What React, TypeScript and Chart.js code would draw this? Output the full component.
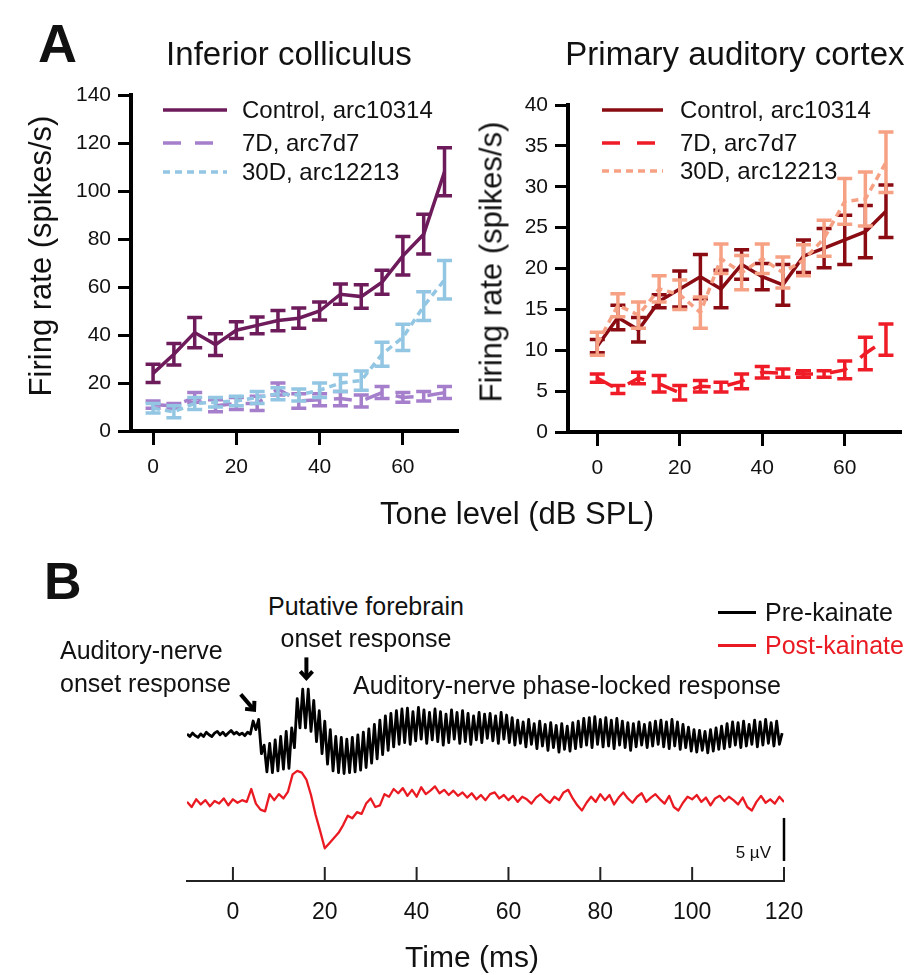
import React, { useEffect, useRef } from "react";
import { Chart, registerables } from "chart.js";

Chart.register(...registerables);

const FONT = "Arial, 'Liberation Sans', Helvetica, sans-serif";
const INK = "#111111";
const RED = "#ea1a22";
Chart.defaults.font.family = FONT;
Chart.defaults.color = INK;

// ---------------- Panel A data ----------------
const toneLevels = [0, 5, 10, 15, 20, 25, 30, 35, 40, 45, 50, 55, 60, 65, 70];
const toneTicks = [0, 20, 40, 60];
const seriesLabels = ["Control, arc10314", "7D, arc7d7", "30D, arc12213"];

// Inferior colliculus
const icTicks = [0, 20, 40, 60, 80, 100, 120, 140];
const icControl = [24, 32, 41, 36, 42, 44, 46, 47, 50, 57, 56, 62, 73, 82, 108];
const icControlErr = [3.8, 4.5, 6.3, 4.5, 3.5, 3.5, 4.2, 4.2, 3.8, 4.2, 4.9, 5, 8, 8.3, 10];
const ic7D = [11, 10.5, 14, 10.5, 11.5, 11.5, 17.5, 12.5, 13, 13.5, 12.5, 16, 14, 14.5, 16];
const ic7DErr = [1.5, 1, 2, 2.5, 2.5, 3, 2.5, 3, 2.5, 3, 2.5, 2.5, 2, 2, 2.5];
const ic30D = [9.5, 8, 11.5, 12, 12.5, 14, 15.5, 15, 17, 20, 21, 32, 39, 52, 63];
const ic30DErr = [2, 2.5, 2.5, 2, 2, 2.5, 2.5, 2.5, 3, 3.5, 4, 5, 5.5, 6, 8];

// Primary auditory cortex
const a1Ticks = [0, 5, 10, 15, 20, 25, 30, 35, 40];
const a1Control = [10.5, 14, 12.5, 16, 17.5, 19, 17.5, 20.5, 19, 18, 21.5, 22.5, 23.5, 24.5, 27];
const a1ControlErr = [0.8, 1.5, 1.5, 0.8, 2.2, 2.7, 2.3, 1.8, 1.6, 2.5, 2, 2.4, 3, 3.2, 3.2];
const a17D = [6.6, 5.2, 6.6, 5.9, 4.8, 5.6, 5.5, 6.2, 7.3, 7.2, 7.1, 7.1, 7.6, 9.6, 11.3];
const a17DErr = [0.5, 0.5, 0.7, 1, 0.9, 0.7, 0.6, 0.9, 0.7, 0.5, 0.4, 0.4, 1.1, 2, 1.9];
const a130D = [10.8, 15.5, 14.3, 17.5, 16.8, 14.6, 21.2, 19.5, 21.2, 19.5, 21, 23.7, 28.2, 28.5, 33];
const a130DErr = [1.4, 1.4, 1.6, 1.6, 1.8, 1.9, 1.8, 2.1, 1.8, 1.9, 1.9, 2.2, 2.8, 3.3, 3.7];

// ---------------- Panel B data ----------------
const timeTicks = [0, 20, 40, 60, 80, 100, 120];
const traceStart = -10; // ms
const preStep = 0.6; // ms per sample
const postStep = 1.0; // ms per sample
// µV relative to pre-stimulus baseline
const preKainate = [
  0.1, -0.2, 0.2, -0.1, -0.3, 0.1, -0.2, 0.3, 0.0, -0.2,
  0.2, 0.4, 0.0, 0.3, -0.1, 0.2, 0.5, 0.1, 0.3, 0.0,
  0.2, -0.1, 0.3, 0.1, 1.6, 0.6, 1.8, -2.2, -1.2, -4.3,
  -1.0, -4.4, -0.6, -4.2, -0.2, -4.0, 0.4, -3.9, 0.8, -1.5,
  4.2, 0.8, 5.3, 0.8, 5.3, 0.4, 4.0, -0.8, 2.8, -2.2,
  1.6, -3.4, 0.6, -4.2, -0.2, -4.4, -0.3, -4.5, -0.5, -4.4,
  -0.3, -4.3, 0.0, -4.1, 0.3, -3.8, 0.7, -3.3, 1.2, -2.8,
  1.7, -2.3, 2.2, -1.8, 2.5, -1.4, 2.8, -1.1, 3.0, -0.9,
  3.1, -1.1, 2.7, -0.7, 3.2, -0.5, 2.9, -1.0, 2.6, -0.6,
  3.0, -0.8, 2.7, -1.2, 2.4, -0.9, 2.9, -0.5, 2.6, -1.0,
  2.8, -0.8, 2.5, -1.1, 2.2, -0.6, 2.6, -0.9, 2.4, -0.4,
  2.5, -0.7, 2.2, -1.0, 2.6, -0.5, 2.3, -0.9, 2.0, -1.2,
  1.7, -1.0, 1.5, -1.4, 1.8, -1.1, 1.3, -1.6, 1.6, -1.3,
  1.2, -1.8, 1.4, -1.5, 1.1, -2.0, 1.3, -1.7, 1.0, -1.9,
  1.4, -1.6, 1.6, -1.4, 1.9, -1.2, 2.0, -1.5, 2.1, -1.1,
  1.8, -1.4, 2.0, -1.3, 1.7, -1.6, 1.9, -1.2, 1.6, -1.5,
  1.4, -1.8, 1.3, -1.4, 1.5, -1.2, 1.2, -1.5, 1.4, -1.3,
  1.6, -1.1, 1.7, -1.4, 1.5, -1.6, 1.8, -1.3, 1.5, -1.7,
  1.2, -1.5, 0.9, -1.9, 0.6, -2.0, 0.5, -1.8, 0.4, -2.1,
  0.6, -1.9, 0.8, -1.7, 1.0, -1.6, 1.3, -1.4, 1.5, -1.2,
  1.4, -1.5, 1.6, -1.3, 1.2, -1.1, 1.7, -1.4, 1.5, -1.2,
  1.8, -1.0, 1.4, -1.3, 1.6, -1.1, 0.2,
];
const postKainate = [
  0.0, -0.6, 0.3, -0.3, 0.2, -0.5, 0.1, -0.2, 0.4, -0.4,
  0.3, -0.1, 0.2, 0.0, 1.5, -0.2, -0.9, -1.1, 0.9, 0.2,
  0.9, 0.4, 1.2, 3.2, 3.6, 3.4, 2.6, 0.8, -1.5, -3.4,
  -5.4, -4.8, -4.2, -3.6, -2.7, -1.6, -1.9, -1.2, -1.4, -0.2,
  0.4, -0.6, -0.4, 0.9, 0.6, 1.5, 1.0, 1.6, 0.7, 1.4,
  0.6, 1.7, 0.9, 1.3, 1.8, 1.0, 1.4, 0.8, 1.3, 0.7,
  1.1, 0.5, 1.0, 0.3, 0.8, 0.2, 0.9, 1.1, 0.4, 0.8,
  0.2, 0.7, 0.0, 0.6, 0.3, -0.2, 0.5, 0.9, 0.3, -0.1,
  0.6, 0.2, 1.1, 1.4, 0.4, -0.4, -1.0, -0.1, 0.6, 0.0,
  0.9, 0.2, 0.8, -0.3, 0.5, 1.1, 0.4, -0.1, 0.6, 1.0,
  0.0, 0.5, 0.9, 0.3, -0.2, 0.7, -0.6, -1.0, -0.1, 0.6,
  0.3, 0.8, 0.0, 0.5, -0.4, 0.4, 0.7, 0.1, 0.6, 0.2,
  -0.3, 0.5, -0.6, -1.0, 0.0, 0.7, -0.1, 0.3, -0.2, 0.6,
  0.0,
];
const preOffset = 17.0; // vertical placement of the traces (µV)
const postOffset = 9.2;
const scaleBarBase = 2.33;
const scaleBarUV = 5;

// ---------------- Plugins ----------------
const errorBarPlugin = {
  id: "errorBars",
  afterDatasetDraw(chart: any, args: any) {
    const ds = chart.data.datasets[args.index];
    if (!ds.errors) return;
    const ys = chart.scales.y;
    const ctx = chart.ctx;
    const cap = 7.5;
    ctx.save();
    ctx.strokeStyle = ds.borderColor;
    ctx.lineWidth = 3.5;
    ctx.setLineDash([]);
    ctx.lineCap = "butt";
    args.meta.data.forEach((el: any, i: number) => {
      const v = ds.data[i].y;
      const e = ds.errors[i];
      const x = el.x;
      const top = ys.getPixelForValue(v + e);
      const bot = ys.getPixelForValue(v - e);
      ctx.beginPath();
      ctx.moveTo(x, top);
      ctx.lineTo(x, bot);
      ctx.moveTo(x - cap, top);
      ctx.lineTo(x + cap, top);
      ctx.moveTo(x - cap, bot);
      ctx.lineTo(x + cap, bot);
      ctx.stroke();
    });
    ctx.restore();
  },
};

function insetLegend(x0: number, x1: number, textX: number, rows: number[]) {
  return {
    id: "insetLegend",
    afterDraw(chart: any) {
      const ctx = chart.ctx;
      ctx.save();
      chart.data.datasets.forEach((ds: any, i: number) => {
        const y = rows[i];
        ctx.strokeStyle = ds.borderColor;
        ctx.lineWidth = ds.borderWidth;
        ctx.lineCap = "butt";
        ctx.setLineDash(ds.borderDash || []);
        ctx.beginPath();
        ctx.moveTo(x0, y);
        ctx.lineTo(x1, y);
        ctx.stroke();
        ctx.setLineDash([]);
        ctx.fillStyle = INK;
        ctx.font = `24px ${FONT}`;
        ctx.textBaseline = "middle";
        ctx.textAlign = "left";
        ctx.fillText(ds.label, textX, y + 1);
      });
      ctx.restore();
    },
  };
}

const upTicksPlugin = {
  id: "upTicks",
  afterDraw(chart: any) {
    const xs = chart.scales.x;
    const ctx = chart.ctx;
    const base = chart.chartArea.bottom;
    ctx.save();
    ctx.strokeStyle = "#222";
    ctx.lineWidth = 2;
    xs.ticks.forEach((t: any) => {
      const px = xs.getPixelForValue(t.value);
      ctx.beginPath();
      ctx.moveTo(px, base);
      ctx.lineTo(px, base - 14);
      ctx.stroke();
    });
    ctx.restore();
  },
};

const arrowNotes = [
  { from: [1.7, 21.7], to: [4.6, 19.9] },
  { from: [16.0, 26.0], to: [16.0, 23.6] },
];

const arrowPlugin = {
  id: "arrows",
  afterDraw(chart: any) {
    const xs = chart.scales.x;
    const ys = chart.scales.y;
    const ctx = chart.ctx;
    ctx.save();
    ctx.strokeStyle = "#000";
    ctx.lineWidth = 4;
    ctx.lineJoin = "miter";
    ctx.lineCap = "butt";
    arrowNotes.forEach((a) => {
      const x0 = xs.getPixelForValue(a.from[0]);
      const y0 = ys.getPixelForValue(a.from[1]);
      const x1 = xs.getPixelForValue(a.to[0]);
      const y1 = ys.getPixelForValue(a.to[1]);
      const ang = Math.atan2(y1 - y0, x1 - x0);
      const h = 9;
      ctx.beginPath();
      ctx.moveTo(x0, y0);
      ctx.lineTo(x1 - Math.cos(ang) * 2, y1 - Math.sin(ang) * 2);
      ctx.stroke();
      ctx.beginPath();
      ctx.moveTo(x1 - h * Math.cos(ang - 0.75), y1 - h * Math.sin(ang - 0.75));
      ctx.lineTo(x1, y1);
      ctx.lineTo(x1 - h * Math.cos(ang + 0.75), y1 - h * Math.sin(ang + 0.75));
      ctx.stroke();
    });
    ctx.restore();
  },
};

// ---------------- Configs ----------------
type Series = { label: string; values: number[]; errors: number[]; color: string; dash: number[]; order: number };

function panelAConfig(
  series: Series[],
  yTicks: number[],
  xMin: number,
  xMax: number,
  padding: { left: number; right: number; top: number; bottom: number },
  legend: any
) {
  return {
    type: "line",
    data: {
      datasets: series.map((s) => ({
        label: s.label,
        data: toneLevels.map((x, i) => ({ x, y: s.values[i] })),
        errors: s.errors,
        borderColor: s.color,
        backgroundColor: s.color,
        borderWidth: 3.5,
        borderDash: s.dash,
        pointRadius: 0,
        tension: 0,
        fill: false,
        order: s.order,
      })),
    },
    options: {
      responsive: false,
      animation: false,
      devicePixelRatio: 1,
      layout: { padding },
      plugins: { legend: { display: false }, tooltip: { enabled: false } },
      scales: {
        x: {
          type: "linear",
          min: xMin,
          max: xMax,
          afterBuildTicks: (s: any) => {
            s.ticks = toneTicks.map((v) => ({ value: v }));
          },
          afterFit: (s: any) => {
            s.height = 60;
          },
          grid: {
            display: true,
            drawOnChartArea: false,
            drawTicks: true,
            tickLength: 14,
            tickWidth: 3,
            tickColor: "#000",
            lineWidth: 3,
            color: "#000",
          },
          border: { display: true, color: "#000", width: 4 },
          ticks: { font: { family: FONT, size: 21 }, color: INK, padding: 10, maxRotation: 0, autoSkip: false },
        },
        y: {
          type: "linear",
          min: yTicks[0],
          max: yTicks[yTicks.length - 1],
          afterBuildTicks: (s: any) => {
            s.ticks = yTicks.map((v) => ({ value: v }));
          },
          afterFit: (s: any) => {
            s.width = 60;
          },
          grid: {
            display: true,
            drawOnChartArea: false,
            drawTicks: true,
            tickLength: 13,
            tickWidth: 3,
            tickColor: "#000",
            lineWidth: 3,
            color: "#000",
          },
          border: { display: true, color: "#000", width: 4 },
          ticks: { font: { family: FONT, size: 21 }, color: INK, padding: 7, autoSkip: false },
        },
      },
    },
    plugins: [errorBarPlugin, legend],
  };
}

const makeIC = () =>
  panelAConfig(
    [
      { label: seriesLabels[0], values: icControl, errors: icControlErr, color: "#6d1b5b", dash: [], order: 0 },
      { label: seriesLabels[1], values: ic7D, errors: ic7DErr, color: "#a57fcb", dash: [18, 14], order: 2 },
      { label: seriesLabels[2], values: ic30D, errors: ic30DErr, color: "#93c6e3", dash: [7, 5], order: 1 },
    ],
    icTicks,
    -5.3,
    73,
    { left: 71, right: 13, top: 95, bottom: 9 },
    insetLegend(163, 227, 242, [110, 143, 172])
  );

const makeA1 = () =>
  panelAConfig(
    [
      { label: seriesLabels[0], values: a1Control, errors: a1ControlErr, color: "#8a0b12", dash: [], order: 1 },
      { label: seriesLabels[1], values: a17D, errors: a17DErr, color: "#ef1c27", dash: [18, 17], order: 2 },
      { label: seriesLabels[2], values: a130D, errors: a130DErr, color: "#f7a184", dash: [7, 5], order: 0 },
    ],
    a1Ticks,
    -7.1,
    73.4,
    { left: 48, right: 13, top: 105, bottom: 8 },
    insetLegend(142, 203, 220, [110, 143, 171])
  );

const makeB = () => ({
  type: "line",
  data: {
    datasets: [
      {
        label: "Pre-kainate",
        data: preKainate.map((v, i) => ({ x: traceStart + i * preStep, y: v + preOffset })),
        borderColor: "#000",
        borderWidth: 2.8,
        borderJoinStyle: "round",
        pointRadius: 0,
        tension: 0,
        fill: false,
      },
      {
        label: "Post-kainate",
        data: postKainate.map((v, i) => ({ x: traceStart + i * postStep, y: v + postOffset })),
        borderColor: RED,
        borderWidth: 2.3,
        borderJoinStyle: "round",
        pointRadius: 0,
        tension: 0,
        fill: false,
      },
      {
        label: "5 µV",
        data: [
          { x: timeTicks[timeTicks.length - 1], y: scaleBarBase },
          { x: timeTicks[timeTicks.length - 1], y: scaleBarBase + scaleBarUV },
        ],
        borderColor: "#000",
        borderWidth: 2.5,
        pointRadius: 0,
        clip: false,
        fill: false,
      },
    ],
  },
  options: {
    responsive: false,
    animation: false,
    devicePixelRatio: 1,
    layout: { padding: { left: 187, right: 129, top: 26, bottom: 34 } },
    plugins: { legend: { display: false }, tooltip: { enabled: false } },
    scales: {
      x: {
        type: "linear",
        min: traceStart,
        max: 120,
        afterBuildTicks: (s: any) => {
          s.ticks = timeTicks.map((v) => ({ value: v }));
        },
        afterFit: (s: any) => {
          s.height = 60;
        },
        grid: { display: false, drawTicks: false },
        border: { display: true, color: "#222", width: 2 },
        ticks: { font: { family: FONT, size: 23 }, color: INK, padding: 18, maxRotation: 0, autoSkip: false },
      },
      y: { type: "linear", display: false, min: 0, max: 25 },
    },
  },
  plugins: [upTicksPlugin, arrowPlugin],
});

// ---------------- Components ----------------
function ChartCanvas({ make, left, top, width, height }: any) {
  const ref = useRef<HTMLCanvasElement | null>(null);
  useEffect(() => {
    if (!ref.current) return;
    const chart = new Chart(ref.current, make());
    return () => chart.destroy();
  }, [make]);
  return (
    <canvas
      ref={ref}
      width={width}
      height={height}
      style={{ position: "absolute", left, top, width, height, display: "block" }}
    />
  );
}

function Label({ x, cy, size, text, align = "left", bold = false, color = INK, rotate = false }: any) {
  const base: any = {
    position: "absolute",
    fontSize: size,
    lineHeight: `${size}px`,
    height: size,
    whiteSpace: "nowrap",
    fontWeight: bold ? 700 : 400,
    color,
    fontFamily: FONT,
  };
  if (rotate) {
    return <div style={{ ...base, left: x, top: cy, transform: "translate(-50%, -50%) rotate(-90deg)" }}>{text}</div>;
  }
  if (align === "center") {
    return <div style={{ ...base, left: x - 400, width: 800, textAlign: "center", top: cy - size / 2 }}>{text}</div>;
  }
  if (align === "right") {
    return <div style={{ ...base, left: x - 400, width: 400, textAlign: "right", top: cy - size / 2 }}>{text}</div>;
  }
  return <div style={{ ...base, left: x, top: cy - size / 2 }}>{text}</div>;
}

export default function App() {
  return (
    <div
      style={{
        position: "absolute",
        left: 0,
        top: 0,
        width: 913,
        height: 975,
        background: "#fff",
        overflow: "hidden",
        fontFamily: FONT,
      }}
    >
      <ChartCanvas make={makeIC} left={0} top={0} width={470} height={500} />
      <ChartCanvas make={makeA1} left={460} top={0} width={453} height={500} />
      <ChartCanvas make={makeB} left={0} top={640} width={913} height={335} />

      <Label x={38} cy={43} size={54} text="A" bold />
      <Label x={289} cy={53} size={33} text="Inferior colliculus" align="center" />
      <Label x={735} cy={53} size={33} text="Primary auditory cortex" align="center" />
      <Label x={40} cy={256} size={31} text="Firing rate (spikes/s)" rotate />
      <Label x={491} cy={262} size={31} text="Firing rate (spikes/s)" rotate />
      <Label x={517} cy={513} size={31} text="Tone level (dB SPL)" align="center" />

      <Label x={44} cy={581} size={52} text="B" bold />
      <Label x={366} cy={606} size={25} text="Putative forebrain" align="center" />
      <Label x={366} cy={638} size={25} text="onset response" align="center" />
      <Label x={60} cy={650} size={25} text="Auditory-nerve" />
      <Label x={60} cy={683} size={25} text="onset response" />
      <Label x={353} cy={685} size={25} text="Auditory-nerve phase-locked response" />

      <div style={{ position: "absolute", left: 718, top: 611, width: 38, height: 2.5, background: "#000" }} />
      <Label x={765} cy={612} size={25} text="Pre-kainate" />
      <div style={{ position: "absolute", left: 718, top: 644, width: 38, height: 2.5, background: RED }} />
      <Label x={765} cy={645} size={25} text="Post-kainate" color={RED} />

      <Label x={771} cy={852} size={17} text="5 µV" align="right" />
      <Label x={472} cy={957} size={30} text="Time (ms)" align="center" />
    </div>
  );
}
